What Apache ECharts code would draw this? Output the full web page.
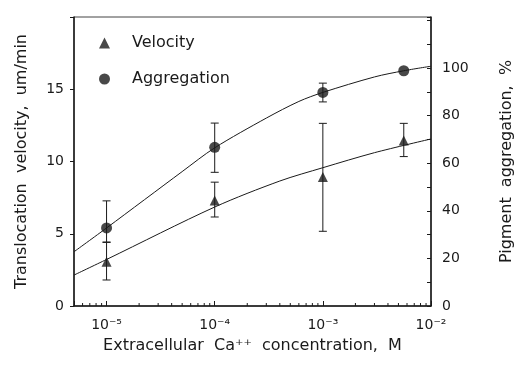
<!DOCTYPE html>
<html>
<head>
<meta charset="utf-8">
<style>
  html, body { margin: 0; padding: 0; background: #fff; }
  #chart { width: 519px; height: 373px; }
</style>
<script src="https://cdn.jsdelivr.net/npm/echarts@6/dist/echarts.min.js"></script>
</head>
<body>
<div id="chart"></div>
<script>
// measured points, x = extracellular Ca++ concentration (M)
const conc = [1e-5, 1e-4, 1e-3, 5.6e-3]
const velocity = [3.06, 7.3, 8.92, 11.45]
const velocityLow = [1.8, 6.16, 5.17, 10.34]
const velocityHigh = [4.4, 8.57, 12.64, 12.64]
const aggregation = [32.8, 66.7, 89.8, 98.9]
const aggregationLow = [26.9, 56.2, 85.8, null]
const aggregationHigh = [44.2, 76.9, 93.7, null]

// fitted curves
const velFitConc = [5e-6, 1e-5, 1e-4, 4e-4, 1e-3, 3e-3, 1e-2]
const velFit = [2.14, 3.22, 6.85, 8.65, 9.57, 10.61, 11.56]
const aggFitConc = [5e-6, 1e-5, 5e-5, 1e-4, 3e-4, 6e-4, 1e-3, 3e-3, 5.6e-3, 1e-2]
const aggFit = [22.8, 32.8, 56.5, 66.5, 79.0, 86.0, 89.8, 96.3, 98.9, 100.8]

// axis ticks
const xTickValues = [1e-5, 1e-4, 1e-3, 1e-2]
const xTickLabels = ['10⁻⁵', '10⁻⁴', '10⁻³', '10⁻²']
const xMinorTicks = [6e-6, 7e-6, 8e-6, 9e-6,
  2e-5, 3e-5, 4e-5, 5e-5, 6e-5, 7e-5, 8e-5, 9e-5,
  2e-4, 3e-4, 4e-4, 5e-4, 6e-4, 7e-4, 8e-4, 9e-4,
  2e-3, 3e-3, 4e-3, 5e-3, 6e-3, 7e-3, 8e-3, 9e-3]
const leftTickLabels = ['0', '5', '10', '15']
const rightTickLabels = ['0', '20', '40', '60', '80', '100']

const ink = '#1a1a1a'
const font = 'DejaVu Sans'

const chart = echarts.init(document.getElementById('chart'))

function errorBars(lows, highs, yIndex) {
  return {
    type: 'custom',
    yAxisIndex: yIndex,
    silent: true,
    z: 3,
    data: conc.map((c, i) => [c, lows[i], highs[i]]).filter(d => d[1] != null),
    renderItem(params, api) {
      const lo = api.coord([api.value(0), api.value(1)])
      const hi = api.coord([api.value(0), api.value(2)])
      const w = 4
      const style = { stroke: ink, lineWidth: 1 }
      return {
        type: 'group',
        children: [
          { type: 'line', shape: { x1: lo[0], y1: lo[1], x2: hi[0], y2: hi[1] }, style },
          { type: 'line', shape: { x1: lo[0] - w, y1: lo[1], x2: lo[0] + w, y2: lo[1] }, style },
          { type: 'line', shape: { x1: hi[0] - w, y1: hi[1], x2: hi[0] + w, y2: hi[1] }, style }
        ]
      }
    }
  }
}

function xLabel(v) {
  const i = xTickValues.findIndex(t => Math.abs(v / t - 1) < 1e-6)
  return i < 0 ? '' : xTickLabels[i]
}

chart.setOption({
  animation: false,
  grid: {
    left: 74, right: 88, top: 17, bottom: 67,
    outerBoundsMode: 'none',
    show: true, borderColor: '#444', borderWidth: 1
  },
  legend: {
    data: ['Velocity', 'Aggregation'],
    orient: 'vertical',
    left: 94,
    top: 30,
    itemWidth: 11,
    itemHeight: 11,
    itemGap: 20,
    selectedMode: false,
    textStyle: { fontFamily: font, fontSize: 16, color: ink, padding: [0, 0, 0, 17] }
  },
  xAxis: {
    type: 'log',
    logBase: 10,
    min: 5e-6,
    max: 1e-2,
    name: 'Extracellular  Ca⁺⁺  concentration,  M',
    nameLocation: 'middle',
    nameGap: 32,
    nameTextStyle: { fontFamily: font, fontSize: 16, color: ink },
    axisLine: { lineStyle: { color: ink, width: 1.5 } },
    axisTick: { inside: true, length: 5, lineStyle: { color: ink } },
    splitLine: { show: false },
    minorTick: { show: false },
    axisLabel: {
      margin: 12,
      fontFamily: font, fontSize: 14, color: ink,
      formatter: xLabel
    }
  },
  yAxis: [
    {
      type: 'value',
      min: 0, max: 20, interval: 5,
      name: 'Translocation  velocity,  um/min',
      nameLocation: 'middle',
      nameGap: 44,
      nameTextStyle: { fontFamily: font, fontSize: 16, color: ink },
      axisLine: { show: true, lineStyle: { color: ink, width: 1.5 } },
      axisTick: { show: true, length: 4, lineStyle: { color: ink } },
      splitLine: { show: false },
      axisLabel: {
        margin: 10, fontFamily: font, fontSize: 14, color: ink,
        formatter: v => leftTickLabels.includes(String(v)) ? String(v) : ''
      }
    },
    {
      type: 'value',
      position: 'right',
      min: 0, max: 121.5, interval: 10,
      name: 'Pigment  aggregation,  %',
      nameLocation: 'middle',
      nameGap: 68,
      nameTextStyle: { fontFamily: font, fontSize: 16, color: ink },
      axisLine: { show: true, lineStyle: { color: ink, width: 1.5 } },
      axisTick: { show: true, inside: true, length: 4, lineStyle: { color: ink } },
      splitLine: { show: false },
      axisLabel: {
        margin: 11, fontFamily: font, fontSize: 14, color: ink,
        formatter: v => rightTickLabels.includes(String(v)) ? String(v) : ''
      }
    }
  ],
  series: [
    {
      name: 'Velocity fit',
      type: 'line',
      yAxisIndex: 0,
      smooth: 0.3,
      showSymbol: false,
      silent: true,
      lineStyle: { color: ink, width: 1 },
      data: velFitConc.map((c, i) => [c, velFit[i]])
    },
    {
      name: 'Aggregation fit',
      type: 'line',
      yAxisIndex: 1,
      smooth: 0.3,
      showSymbol: false,
      silent: true,
      lineStyle: { color: ink, width: 1 },
      data: aggFitConc.map((c, i) => [c, aggFit[i]])
    },
    errorBars(velocityLow, velocityHigh, 0),
    errorBars(aggregationLow, aggregationHigh, 1),
    {
      name: 'Velocity',
      type: 'scatter',
      yAxisIndex: 0,
      symbol: 'triangle',
      symbolSize: 10,
      z: 4,
      itemStyle: { color: ink },
      data: conc.map((c, i) => [c, velocity[i]])
    },
    {
      name: 'Aggregation',
      type: 'scatter',
      yAxisIndex: 1,
      symbol: 'circle',
      symbolSize: 11,
      z: 4,
      itemStyle: { color: ink },
      data: conc.map((c, i) => [c, aggregation[i]])
    },
    {
      // log-spaced minor ticks on the x axis
      name: 'minor ticks',
      type: 'custom',
      yAxisIndex: 0,
      silent: true,
      data: xMinorTicks.map(c => [c, 0]),
      renderItem(params, api) {
        const p = api.coord([api.value(0), 0])
        return {
          type: 'line',
          shape: { x1: p[0], y1: p[1], x2: p[0], y2: p[1] - 3 },
          style: { stroke: ink, lineWidth: 1 }
        }
      }
    }
  ]
})
</script>
</body>
</html>
